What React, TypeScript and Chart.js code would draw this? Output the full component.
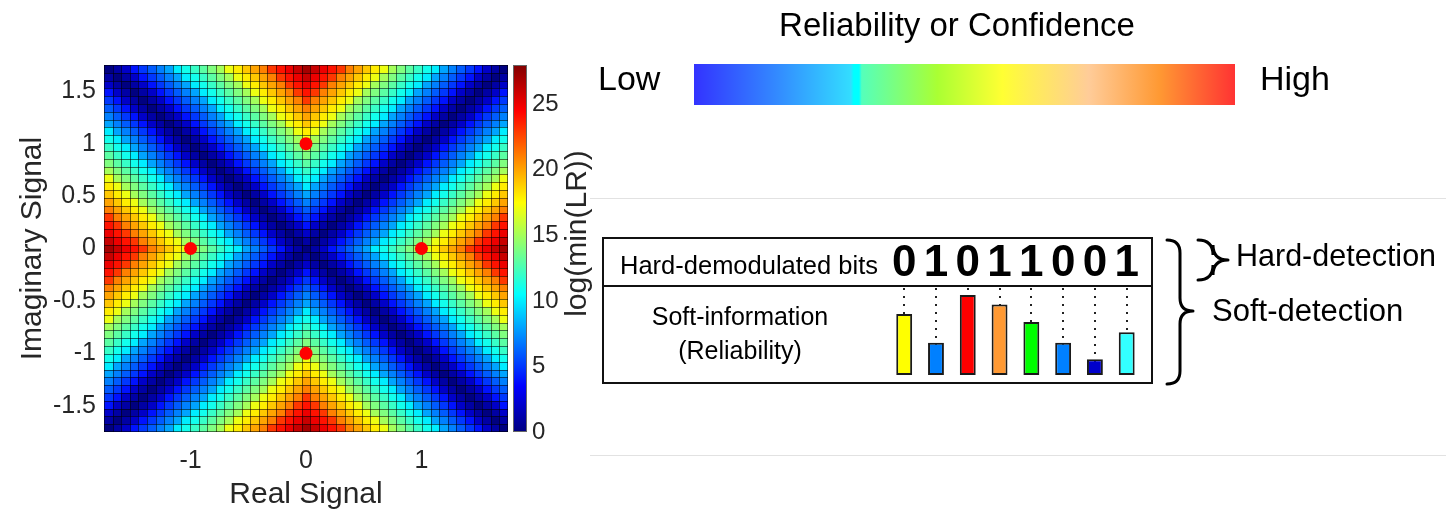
import React, { useEffect, useRef } from "react";
import { Chart, registerables } from "chart.js";

Chart.register(...registerables);

const FONT = '"Liberation Sans", Arial, Helvetica, sans-serif';
const AXIS_COLOR = "#262626";

// ---------- Left panel: log(min(LR)) map (values 0..28, one base-36 digit per cell, top row first) ----------
const HEAT_ROWS: string[] = [
  "01245678abcdefhijklnopqrqponlkjihfedcba87654210",
  "101245678abcdefhijklnopqponlkjihfedcba876542101",
  "2101245678abcdefhijklnoponlkjihfedcba8765421012",
  "42101245678abcdefhijklnonlkjihfedcba87654210124",
  "542101245678abcdefhijklnlkjihfedcba876542101245",
  "6542101245678abcdefhijklkjihfedcba8765421012456",
  "76542101245678abcdefhijkjihfedcba87654210124567",
  "876542101245678abcdefhijihfedcba876542101245678",
  "a876542101245678abcdefhihfedcba876542101245678a",
  "ba876542101245678abcdefhfedcba876542101245678ab",
  "cba876542101245678abcdefedcba876542101245678abc",
  "dcba876542101245678abcdedcba876542101245678abcd",
  "edcba876542101245678abcdcba876542101245678abcde",
  "fedcba876542101245678abcba876542101245678abcdef",
  "hfedcba876542101245678aba876542101245678abcdefh",
  "ihfedcba876542101245678a876542101245678abcdefhi",
  "jihfedcba87654210124567876542101245678abcdefhij",
  "kjihfedcba876542101245676542101245678abcdefhijk",
  "lkjihfedcba8765421012456542101245678abcdefhijkl",
  "nlkjihfedcba87654210124542101245678abcdefhijkln",
  "onlkjihfedcba876542101242101245678abcdefhijklno",
  "ponlkjihfedcba8765421012101245678abcdefhijklnop",
  "qponlkjihfedcba87654210101245678abcdefhijklnopq",
  "rqponlkjihfedcba876542101245678abcdefhijklnopqr",
  "qponlkjihfedcba87654210101245678abcdefhijklnopq",
  "ponlkjihfedcba8765421012101245678abcdefhijklnop",
  "onlkjihfedcba876542101242101245678abcdefhijklno",
  "nlkjihfedcba87654210124542101245678abcdefhijkln",
  "lkjihfedcba8765421012456542101245678abcdefhijkl",
  "kjihfedcba876542101245676542101245678abcdefhijk",
  "jihfedcba87654210124567876542101245678abcdefhij",
  "ihfedcba876542101245678a876542101245678abcdefhi",
  "hfedcba876542101245678aba876542101245678abcdefh",
  "fedcba876542101245678abcba876542101245678abcdef",
  "edcba876542101245678abcdcba876542101245678abcde",
  "dcba876542101245678abcdedcba876542101245678abcd",
  "cba876542101245678abcdefedcba876542101245678abc",
  "ba876542101245678abcdefhfedcba876542101245678ab",
  "a876542101245678abcdefhihfedcba876542101245678a",
  "876542101245678abcdefhijihfedcba876542101245678",
  "76542101245678abcdefhijkjihfedcba87654210124567",
  "6542101245678abcdefhijklkjihfedcba8765421012456",
  "542101245678abcdefhijklnlkjihfedcba876542101245",
  "42101245678abcdefhijklnonlkjihfedcba87654210124",
  "2101245678abcdefhijklnoponlkjihfedcba8765421012",
  "101245678abcdefhijklnopqponlkjihfedcba876542101",
  "01245678abcdefhijklnopqrqponlkjihfedcba87654210",
];

const GRID_MIN = -1.75;
const GRID_MAX = 1.75;
const X_TICKS = [-1, 0, 1];
const Y_TICKS = [-1.5, -1, -0.5, 0, 0.5, 1, 1.5];
const CB_MIN = 0;
const CB_MAX = 28;
const CB_TICKS = [0, 5, 10, 15, 20, 25];
const CONSTELLATION_X = [0, -1, 1, 0];
const CONSTELLATION_Y = [1, 0, 0, -1];
const X_TITLE = "Real Signal";
const Y_TITLE = "Imaginary Signal";
const CB_TITLE = "log(min(LR))";

// ---------- Right panel ----------
const BITS = ["0", "1", "0", "1", "1", "0", "0", "1"];
const RELIABILITY = [0.7, 0.37, 0.92, 0.81, 0.61, 0.37, 0.18, 0.49];
const REL_MAX = 1;
const BAR_COLORS = ["#ffff00", "#0080ff", "#ff0000", "#ff9933", "#00ff00", "#0080ff", "#0000cc", "#33ffff"];
const SCALE_STOPS = [0, 0.15, 0.29, 0.295, 0.305, 0.31, 0.45, 0.57, 0.62, 0.73, 0.86, 1];
const SCALE_COLORS = ["#3333ff", "#3388ff", "#33ddff", "#00ffff", "#00ffff", "#55ffbb", "#aaff33", "#ffff33", "#ffee55", "#ffcc99", "#ff9933", "#ff3333"];

function clamp01(v: number) {
  return Math.max(0, Math.min(1, v));
}
function jetColor(t: number) {
  const tt = clamp01(t);
  const r = clamp01(1.5 - Math.abs(4 * tt - 3));
  const g = clamp01(1.5 - Math.abs(4 * tt - 2));
  const b = clamp01(1.5 - Math.abs(4 * tt - 1));
  return `rgb(${Math.round(r * 255)},${Math.round(g * 255)},${Math.round(b * 255)})`;
}

const heatmapPlugin = {
  id: "heatmap",
  beforeDatasetsDraw(chart: any) {
    const { ctx, scales } = chart;
    const xs = scales.x;
    const ys = scales.y;
    const nRows = HEAT_ROWS.length;
    const nCols = HEAT_ROWS[0].length;
    const span = GRID_MAX - GRID_MIN;
    const xEdge: number[] = [];
    for (let c = 0; c <= nCols; c++) xEdge.push(Math.round(xs.getPixelForValue(GRID_MIN + (span * c) / nCols)));
    const yEdge: number[] = [];
    for (let r = 0; r <= nRows; r++) yEdge.push(Math.round(ys.getPixelForValue(GRID_MAX - (span * r) / nRows)));
    ctx.save();
    for (let r = 0; r < nRows; r++) {
      const row = HEAT_ROWS[r];
      for (let c = 0; c < nCols; c++) {
        const v = parseInt(row[c], 36);
        if (isNaN(v)) continue;
        ctx.fillStyle = jetColor((v - CB_MIN) / (CB_MAX - CB_MIN));
        ctx.fillRect(xEdge[c], yEdge[r], xEdge[c + 1] - xEdge[c], yEdge[r + 1] - yEdge[r]);
      }
    }
    ctx.strokeStyle = "rgba(0,0,0,0.55)";
    ctx.lineWidth = 1;
    ctx.beginPath();
    for (let c = 0; c <= nCols; c++) {
      const px = c === nCols ? xEdge[c] - 0.5 : xEdge[c] + 0.5;
      ctx.moveTo(px, yEdge[0]);
      ctx.lineTo(px, yEdge[nRows]);
    }
    for (let r = 0; r <= nRows; r++) {
      const py = r === nRows ? yEdge[r] - 0.5 : yEdge[r] + 0.5;
      ctx.moveTo(xEdge[0], py);
      ctx.lineTo(xEdge[nCols], py);
    }
    ctx.stroke();
    ctx.restore();
  },
};

const colorbarPlugin = {
  id: "colorbar",
  afterDraw(chart: any) {
    const { ctx, chartArea, scales } = chart;
    const cb = scales.cb;
    const top = cb.getPixelForValue(CB_MAX);
    const bottom = cb.getPixelForValue(CB_MIN);
    const left = chartArea.right + 5;
    const width = 14;
    ctx.save();
    const g = ctx.createLinearGradient(0, bottom, 0, top);
    [0, 0.125, 0.375, 0.625, 0.875, 1].forEach((t) => g.addColorStop(t, jetColor(t)));
    ctx.fillStyle = g;
    ctx.fillRect(left, top, width, bottom - top);
    ctx.strokeStyle = "#666";
    ctx.lineWidth = 1;
    ctx.strokeRect(left + 0.5, top + 0.5, width - 1, bottom - top - 1);
    ctx.translate(578, (top + bottom) / 2 - 15);
    ctx.rotate(-Math.PI / 2);
    ctx.font = `30px ${FONT}`;
    ctx.fillStyle = AXIS_COLOR;
    ctx.textAlign = "center";
    ctx.textBaseline = "middle";
    ctx.fillText(CB_TITLE, 0, 0);
    ctx.restore();
  },
};

function drawText(ctx: CanvasRenderingContext2D, s: string, x: number, y: number, size: number, align: CanvasTextAlign = "left", weight = "normal") {
  ctx.font = `${weight} ${size}px ${FONT}`;
  ctx.textAlign = align;
  ctx.textBaseline = "middle";
  ctx.fillStyle = "#000";
  ctx.fillText(s, x, y);
}

function drawBrace(ctx: CanvasRenderingContext2D, x: number, y1: number, y2: number, tipY: number, w: number) {
  const xm = x + w / 2;
  const r = w / 2;
  ctx.beginPath();
  ctx.moveTo(x, y1);
  ctx.quadraticCurveTo(xm, y1, xm, y1 + r);
  ctx.lineTo(xm, tipY - r);
  ctx.quadraticCurveTo(xm, tipY, x + w, tipY);
  ctx.moveTo(x + w, tipY);
  ctx.quadraticCurveTo(xm, tipY, xm, tipY + r);
  ctx.lineTo(xm, y2 - r);
  ctx.quadraticCurveTo(xm, y2, x, y2);
  ctx.stroke();
}

const panelPlugin = {
  id: "panel",
  afterDraw(chart: any) {
    const ctx: CanvasRenderingContext2D = chart.ctx;
    ctx.save();
    // separators
    ctx.strokeStyle = "#e2e2e2";
    ctx.lineWidth = 1;
    ctx.beginPath();
    ctx.moveTo(590, 198.5);
    ctx.lineTo(1446, 198.5);
    ctx.moveTo(590, 455.5);
    ctx.lineTo(1446, 455.5);
    ctx.stroke();

    // reliability scale
    drawText(ctx, "Reliability or Confidence", 957, 27, 33, "center");
    const gx0 = 694, gx1 = 1235;
    const grad = ctx.createLinearGradient(gx0, 0, gx1, 0);
    SCALE_STOPS.forEach((s, i) => grad.addColorStop(s, SCALE_COLORS[i]));
    ctx.fillStyle = grad;
    ctx.fillRect(gx0, 64, gx1 - gx0, 41);
    drawText(ctx, "Low", 598, 81, 34, "left");
    drawText(ctx, "High", 1260, 81, 34, "left");

    // box
    ctx.strokeStyle = "#111";
    ctx.lineWidth = 2;
    ctx.strokeRect(603, 238, 549, 145);
    ctx.beginPath();
    ctx.moveTo(603, 286);
    ctx.lineTo(1152, 286);
    ctx.stroke();
    drawText(ctx, "Hard-demodulated bits", 620, 267, 25.5, "left");
    drawText(ctx, "Soft-information", 740, 318, 25, "center");
    drawText(ctx, "(Reliability)", 740, 352, 25, "center");

    // braces
    ctx.lineWidth = 3;
    ctx.lineCap = "round";
    ctx.strokeStyle = "#000";
    drawBrace(ctx, 1167, 240, 384, 311, 26);
    drawBrace(ctx, 1198, 240, 280, 260, 30);
    drawText(ctx, "Hard-detection", 1236, 258, 30.5, "left");
    drawText(ctx, "Soft-detection", 1212, 312, 31, "left");
    ctx.restore();
  },
};

export default function App() {
  const leftRef = useRef<HTMLCanvasElement>(null);
  const rightRef = useRef<HTMLCanvasElement>(null);

  useEffect(() => {
    const points = CONSTELLATION_X.map((x, i) => ({ x, y: CONSTELLATION_Y[i] }));
    const left = new Chart(leftRef.current as HTMLCanvasElement, {
      type: "scatter",
      data: {
        datasets: [
          {
            data: points,
            pointRadius: 6.5,
            pointHoverRadius: 6.5,
            backgroundColor: "#ff0000",
            borderWidth: 0,
          },
        ],
      },
      options: {
        responsive: false,
        animation: false,
        devicePixelRatio: 1,
        events: [],
        layout: { padding: { left: 0, top: 65, right: 0, bottom: 0 } },
        plugins: { legend: { display: false }, tooltip: { enabled: false } },
        scales: {
          x: {
            type: "linear",
            position: "bottom",
            min: GRID_MIN,
            max: GRID_MAX,
            afterBuildTicks: (a: any) => {
              a.ticks = X_TICKS.map((v) => ({ value: v }));
            },
            afterFit: (a: any) => {
              a.height = 81;
            },
            grid: { display: false, drawTicks: false },
            border: { display: false },
            ticks: { padding: 14, color: AXIS_COLOR, font: { family: FONT, size: 25 }, callback: (v: any) => String(v) },
            title: { display: true, text: X_TITLE, color: AXIS_COLOR, font: { family: FONT, size: 30 }, padding: { top: 0, bottom: 0 } },
          },
          y: {
            type: "linear",
            position: "left",
            min: GRID_MIN,
            max: GRID_MAX,
            afterBuildTicks: (a: any) => {
              a.ticks = Y_TICKS.map((v) => ({ value: v }));
            },
            afterFit: (a: any) => {
              a.width = 104;
            },
            grid: { display: false, drawTicks: false },
            border: { display: false },
            ticks: { padding: 8, color: AXIS_COLOR, font: { family: FONT, size: 25 }, callback: (v: any) => String(v) },
            title: { display: true, text: Y_TITLE, color: AXIS_COLOR, font: { family: FONT, size: 30 }, padding: { top: 15, bottom: 0 } },
          },
          cb: {
            type: "linear",
            axis: "y",
            position: "right",
            min: CB_MIN,
            max: CB_MAX,
            afterBuildTicks: (a: any) => {
              a.ticks = CB_TICKS.map((v) => ({ value: v }));
            },
            afterFit: (a: any) => {
              a.width = 92;
            },
            grid: { display: false, drawTicks: false },
            border: { display: false },
            ticks: { padding: 24, color: AXIS_COLOR, font: { family: FONT, size: 24 }, callback: (v: any) => String(v) },
          },
        } as any,
      },
      plugins: [heatmapPlugin, colorbarPlugin],
    } as any);

    const right = new Chart(rightRef.current as HTMLCanvasElement, {
      type: "bar",
      data: {
        labels: BITS,
        datasets: [
          {
            data: RELIABILITY,
            backgroundColor: BAR_COLORS,
            borderColor: "#1a1a1a",
            borderWidth: 2,
            borderSkipped: false,
            barPercentage: 0.5,
            categoryPercentage: 1,
          },
        ],
      },
      options: {
        responsive: false,
        animation: false,
        devicePixelRatio: 1,
        events: [],
        layout: { padding: { left: 888.3, right: 303.4, top: 228, bottom: 138 } },
        plugins: { legend: { display: false }, tooltip: { enabled: false } },
        scales: {
          x: {
            type: "category",
            position: "top",
            offset: true,
            afterFit: (a: any) => {
              a.height = 60;
            },
            grid: { display: true, offset: false, drawTicks: false, color: "#222", lineWidth: 2 },
            border: { display: false, dash: [2, 6] },
            ticks: {
              autoSkip: false,
              maxRotation: 0,
              padding: 2,
              color: "#000",
              font: { family: FONT, size: 44, weight: "bold", lineHeight: 1 },
            },
          },
          y: { display: false, min: 0, max: REL_MAX },
        } as any,
      },
      plugins: [panelPlugin],
    } as any);

    return () => {
      left.destroy();
      right.destroy();
    };
  }, []);

  return (
    <div style={{ position: "absolute", left: 0, top: 0, width: 1446, height: 513, background: "#fff" }}>
      <canvas ref={leftRef} width={600} height={513} style={{ position: "absolute", left: 0, top: 0 }} />
      <canvas ref={rightRef} width={1446} height={513} style={{ position: "absolute", left: 0, top: 0 }} />
    </div>
  );
}
